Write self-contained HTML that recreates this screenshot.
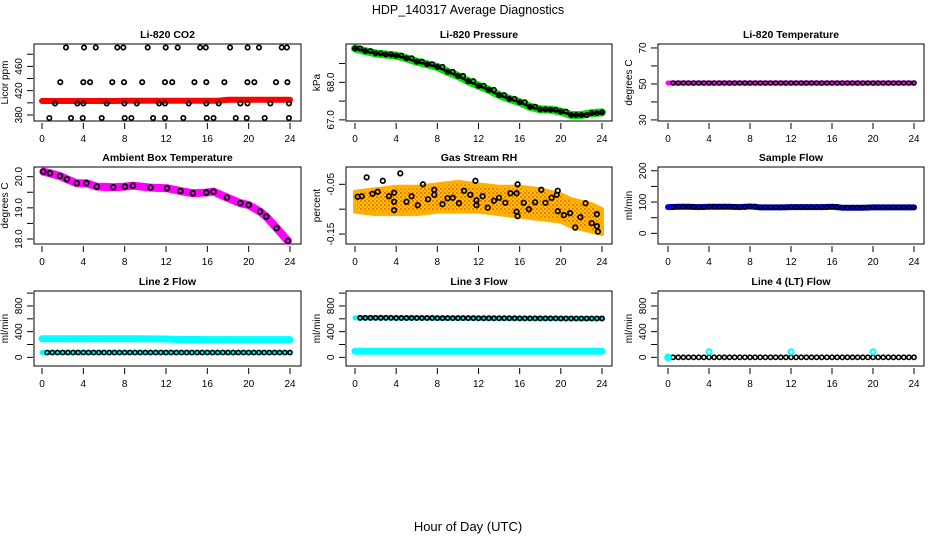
<!DOCTYPE html>
<html><head><meta charset="utf-8"><style>
html,body{margin:0;padding:0;background:#fff;}
svg{display:block;font-family:"Liberation Sans",sans-serif;}
</style></head><body>
<svg id="chart" width="936" height="540" viewBox="0 0 936 540" xmlns="http://www.w3.org/2000/svg">
<defs>
<pattern id="rhpat" width="4" height="4" patternUnits="userSpaceOnUse"><rect width="4" height="4" fill="#ffc800"/><circle cx="1" cy="1" r="0.9" fill="#ff3000"/><circle cx="3" cy="3" r="0.9" fill="#ff7000"/></pattern>
</defs>
<text x="468" y="14" text-anchor="middle" font-size="12.5">HDP_140317  Average Diagnostics</text>
<text x="468" y="531" text-anchor="middle" font-size="13">Hour of Day (UTC)</text>
</svg>
<script>
// ---- data ----
const hours=[0,1,2,3,4,5,6,7,8,9,10,11,12,13,14,15,16,17,18,19,20,21,22,23,24];
const co2T491=[2.32,4.07,5.2,7.29,7.87,10.23,11.97,13.13,15.3,15.85,18.2,19.9,21.0,23.2,23.7];
const co2T434=[1.77,4.0,4.65,6.8,7.94,9.7,11.9,12.6,14.75,15.9,17.65,19.88,20.55,22.65,23.75];
const co2T399=[1.26,3.42,4.0,6.26,7.97,9.17,11.33,11.9,14.2,15.9,17.1,19.2,19.88,22.1,23.9];
const co2T375=[0.71,2.81,3.94,5.78,8.0,8.65,10.75,11.9,13.68,15.94,16.6,18.75,19.81,21.55,23.9];
const co2Levels=[491,434,399,375];
const co2Red=[403,403,403,403,403,403,403,403,403.5,403.5,403.5,403.5,403.5,403.5,403.5,403.5,403.5,403.5,405,405,405,405,405,405,405];
const pressure=[68.90,68.83,68.77,68.74,68.71,68.64,68.55,68.48,68.41,68.28,68.17,68.03,67.91,67.80,67.66,67.56,67.47,67.35,67.28,67.27,67.22,67.13,67.13,67.18,67.20];
const liTemp=[50.5,50.5,50.5,50.5,50.5,50.5,50.5,50.5,50.5,50.5,50.5,50.5,50.5,50.5,50.5,50.5,50.5,50.5,50.5,50.5,50.5,50.5,50.5,50.5,50.5];
const ambT=[0.13,0.77,1.74,2.4,3.36,4.3,5.3,6.9,8.03,8.8,10.5,12.1,13.4,14.6,15.9,16.6,17.9,19.2,20,21.1,21.7,22.7,23.8];
const ambV=[20.16,20.11,20.02,19.92,19.79,19.79,19.68,19.66,19.68,19.71,19.65,19.63,19.54,19.47,19.49,19.52,19.33,19.15,19.09,18.88,18.72,18.35,17.94];
const rhT=[0.26,0.65,1.13,1.7,2.2,2.7,3.3,3.8,3.8,3.8,4.4,5.0,5.5,6.1,6.6,7.1,7.7,7.7,8.5,9.0,9.5,10.1,10.6,11.2,11.7,11.8,11.8,12.4,12.9,13.5,14.0,14.6,15.1,15.7,15.7,15.8,15.8,16.4,16.9,17.5,18.1,18.5,19.1,19.6,19.7,19.7,20.3,20.9,21.4,21.9,22.4,23.0,23.5,23.5,23.6];
const rhV=[-0.075,-0.074,-0.036,-0.069,-0.065,-0.043,-0.074,-0.067,-0.085,-0.102,-0.028,-0.085,-0.074,-0.092,-0.05,-0.08,-0.061,-0.071,-0.09,-0.078,-0.077,-0.088,-0.063,-0.071,-0.043,-0.082,-0.092,-0.074,-0.097,-0.083,-0.077,-0.087,-0.068,-0.068,-0.105,-0.05,-0.114,-0.087,-0.1,-0.086,-0.061,-0.087,-0.077,-0.071,-0.104,-0.063,-0.112,-0.108,-0.137,-0.116,-0.088,-0.128,-0.134,-0.11,-0.145];
const rhCloudT=[0,2,4,6,8,10,12,14,16,18,20,21,22,23,24];
const rhUpper=[-0.065,-0.06,-0.055,-0.055,-0.05,-0.045,-0.05,-0.055,-0.055,-0.06,-0.07,-0.08,-0.085,-0.09,-0.1];
const rhLower=[-0.105,-0.11,-0.11,-0.11,-0.105,-0.105,-0.105,-0.11,-0.115,-0.12,-0.125,-0.135,-0.14,-0.145,-0.15];
const sampleFlow=[84,85,85,84,85,85,85,84,86,83,83,83,84,84,84,84,85,82,82,82,83,83,83,83,83];
const line2Cyan=[290,290,290,290,290,290,290,290,290,290,288,288,285,280,278,277,276,276,275,275,275,275,275,275,275];
const line2Black=[75,75,75,75,75,75,75,75,75,75,75,75,75,75,75,75,75,75,75,75,75,75,75,75,75];
const line3Black=[615,615,615,615,612,612,612,612,610,610,610,610,608,608,608,608,606,606,606,606,605,605,605,605,605];
const line3Cyan=[95,95,95,95,95,95,95,95,95,95,95,95,95,95,95,95,95,95,95,95,95,95,95,95,95];
const line4Black=[0,0,0,0,0,0,0,0,0,0,0,0,0,0,0,0,0,0,0,0,0,0,0,0,0];
const line4CyanT=[0,4,12,20];
const line4CyanV=[0,85,85,85];
const xTicks=[0,4,8,12,16,20,24];

// ---- layout ----
const NS='http://www.w3.org/2000/svg';
const svg=document.getElementById('chart');
const cols=[{l:34,r:301,x0:42,x24:290},{l:346,r:612,x0:355,x24:602},{l:658,r:924,x0:668,x24:914}];
const rows=[{t:44,b:121},{t:167,b:244},{t:291,b:366}];
function mk(tag,attrs,name,parent){
  const el=document.createElementNS(NS,tag);
  for(const k in attrs) el.setAttribute(k,attrs[k]);
  
  
  (parent||svg).appendChild(el);return el;
}
function panel(ci,ri,title,ylab,ymin,ymax,ticks,labels){
  const c=cols[ci],r=rows[ri];
  const g=mk('g',{},'panel-'+title.toLowerCase().replace(/[^a-z0-9]+/g,'-'));
  const sx=t=>c.x0+t*(c.x24-c.x0)/24;
  const sy=v=>r.b-(v-ymin)/(ymax-ymin)*(r.b-r.t);
  mk('rect',{x:c.l,y:r.t,width:c.r-c.l,height:r.b-r.t,fill:'none',stroke:'#000','stroke-width':1},'plot-box',g);
  const tt=mk('text',{x:(c.l+c.r)/2,y:r.t-6,'text-anchor':'middle','font-size':10.5,'font-weight':'bold'},'panel-title',g);tt.textContent=title;
  xTicks.forEach(t=>{
    mk('line',{x1:sx(t),x2:sx(t),y1:r.b+2,y2:r.b+8,stroke:'#000'},'x-tick',g);
    const tx=mk('text',{x:sx(t),y:r.b+21,'text-anchor':'middle','font-size':10},'x-tick-label',g);tx.textContent=t;
  });
  ticks.forEach(v=>{
    mk('line',{x1:c.l-7,x2:c.l-1,y1:sy(v),y2:sy(v),stroke:'#000'},'y-tick',g);
  });
  labels.forEach(v=>{
    const s=typeof v==='number'?String(v):v;
    const y=sy(parseFloat(s));
    const tx=mk('text',{x:c.l-12,y:y,'text-anchor':'middle','font-size':10,transform:'rotate(-90 '+(c.l-12)+' '+y+')'},'y-tick-label',g);tx.textContent=s;
  });
  const yl=mk('text',{x:c.l-26,y:(r.t+r.b)/2,'text-anchor':'middle','font-size':10,transform:'rotate(-90 '+(c.l-26)+' '+((r.t+r.b)/2)+')'},'y-axis-title',g);yl.textContent=ylab;
  return {g,sx,sy};
}
function band(P,ts,vs,color,w,name){
  mk('polyline',{points:ts.map((t,i)=>P.sx(t)+','+P.sy(vs[i])).join(' '),fill:'none',stroke:color,'stroke-width':w,'stroke-linejoin':'round','stroke-linecap':'round'},name,P.g);
}
function pts(P,ts,vs,color,name,r,sw,fill){
  ts.forEach((t,i)=>mk('circle',{cx:P.sx(t),cy:P.sy(vs[i]),r:r||2.2,fill:fill||'none',stroke:color,'stroke-width':sw||1.6},name,P.g));
}
function half(arr){
  const T=[],V=[];for(let i=0;i<arr.length;i++){T.push(hours[i]);V.push(arr[i]);if(i<arr.length-1){T.push(hours[i]+0.5);V.push(arr[i]);}}return [T,V];
}

// 1 CO2
let P=panel(0,0,'Li-820 CO2','Licor ppm',370.1,496.8,[380,400,420,440,460,480],[380,420,460]);
band(P,hours,co2Red,'#ff0000',6,'co2-red-series');
[co2T491,co2T434,co2T399,co2T375].forEach((ts,k)=>pts(P,ts,ts.map(()=>co2Levels[k]),'#000','co2-point',2.2,1.7));
// 2 Pressure
P=panel(1,0,'Li-820 Pressure','kPa',66.97,69.02,[67.0,67.5,68.0,68.5],['67.0','68.0']);
band(P,hours,pressure,'#00e000',8,'pressure-green-series');
band(P,hours,pressure,'#000',2.5,'pressure-black-line');
let hp=half(pressure);pts(P,hp[0],hp[1],'#000','pressure-point',2.2,1.6);
// 3 LI temp
P=panel(2,0,'Li-820 Temperature','degrees C',29.4,72.2,[30,40,50,60,70],[30,50,70]);
band(P,hours,liTemp,'#ff00ff',5,'li-temp-magenta-series');
hp=half(liTemp);pts(P,hp[0].slice(1),hp[1].slice(1),'#000','li-temp-point',2.1,1.5);
// 4 Ambient
P=panel(0,1,'Ambient Box Temperature','degrees C',17.84,20.31,[18.0,18.5,19.0,19.5,20.0],['18.0','19.0','20.0']);
band(P,ambT,ambV,'#ff00ff',8,'ambient-magenta-series');
pts(P,ambT,ambV,'#000','ambient-point',2.4,1.8);
// 5 RH
P=panel(1,1,'Gas Stream RH','percent',-0.170,-0.0152,[-0.15,-0.10,-0.05],['-0.15','-0.05']);
const poly=rhCloudT.map((t,i)=>P.sx(t)+','+P.sy(rhUpper[i])).concat(rhCloudT.slice().reverse().map((t,i)=>P.sx(t)+','+P.sy(rhLower[rhLower.length-1-i])));
mk('polygon',{points:poly.join(' '),fill:'url(#rhpat)',stroke:'#ffb000','stroke-width':4,'stroke-linejoin':'round'},'rh-orange-cloud',P.g);
pts(P,rhT,rhV,'#000','rh-point',2.3,1.7);
// 6 Sample flow
P=panel(2,1,'Sample Flow','ml/min',-34,212,[0,50,100,150,200],[0,100,200]);
band(P,hours,sampleFlow,'#0000ff',6,'sample-flow-blue-series');
hp=half(sampleFlow);pts(P,hp[0].slice(1),hp[1].slice(1),'#000','sample-flow-point',2.1,1.5);
// 7 Line 2
const rt=[0,200,400,600,800,1000],rl=[0,400,800];
P=panel(0,2,'Line 2 Flow','ml/min',-135,1033,rt,rl);
band(P,hours,line2Cyan,'#00ffff',7,'line2-cyan-series');
band(P,hours,line2Black,'#00ffff',5,'line2-cyan-low');
hp=half(line2Black);pts(P,hp[0].slice(1),hp[1].slice(1),'#000','line2-point',2.1,1.6);
// 8 Line 3
P=panel(1,2,'Line 3 Flow','ml/min',-135,1033,rt,rl);
band(P,hours,line3Cyan,'#00ffff',7,'line3-cyan-series');
band(P,hours,line3Black,'#00ffff',5,'line3-cyan-high');
hp=half(line3Black);pts(P,hp[0].slice(1),hp[1].slice(1),'#000','line3-point',2.1,1.8);
// 9 Line 4
P=panel(2,2,'Line 4 (LT) Flow','ml/min',-135,1033,rt,rl);
hp=half(line4Black);pts(P,hp[0].slice(1),hp[1].slice(1),'#000','line4-point',2.1,1.6);
pts(P,line4CyanT.slice(0,1),line4CyanV.slice(0,1),'#00ffff','line4-cyan-start',2.8,2,'#00ffff');
pts(P,line4CyanT.slice(1),line4CyanV.slice(1),'#00ffff','line4-cyan-point',2.6,2);
</script>
</body></html>
